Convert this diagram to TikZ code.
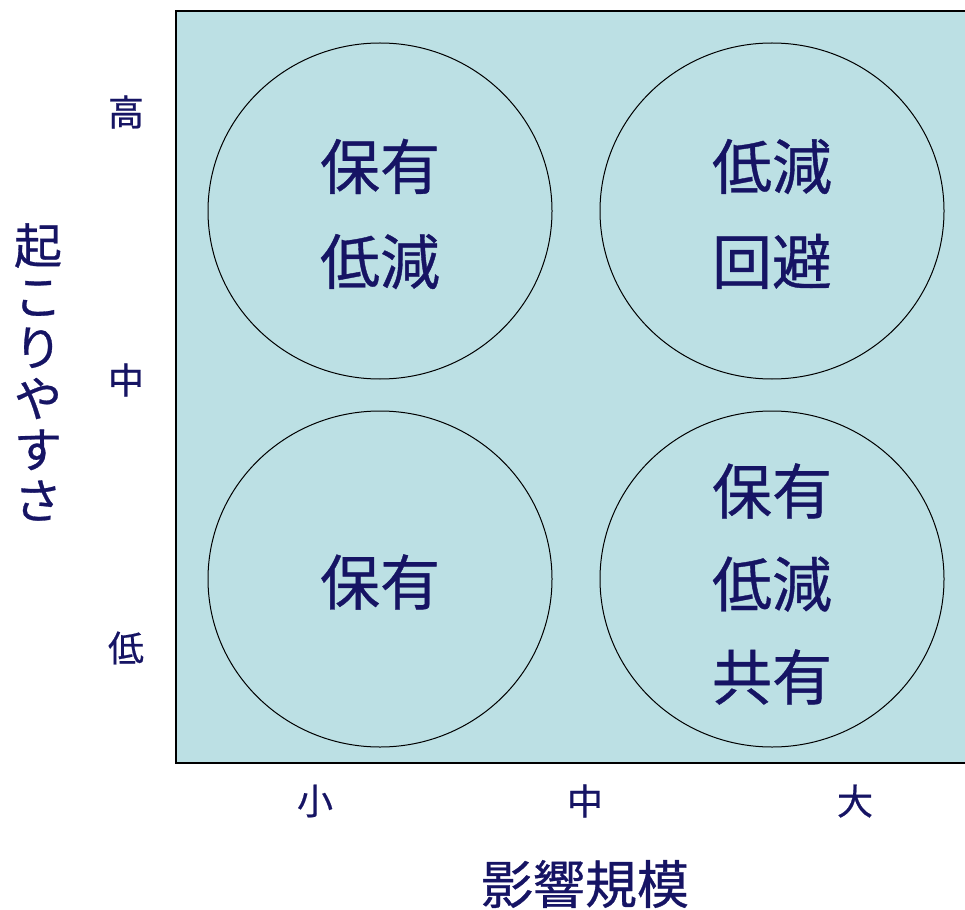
\documentclass[tikz,border=0pt]{standalone}
\usepackage{fontspec}
\setmainfont[FakeBold=0.6]{Noto Sans CJK JP}
\definecolor{quadfill}{RGB}{188,224,228}
\definecolor{navy}{RGB}{22,20,100}
\begin{document}
\begin{tikzpicture}[x=1pt,y=-1pt,
  lbl/.style={text=navy,inner sep=0pt,align=center},
  ring/.style={draw=black,line width=1pt}]
\useasboundingbox (0,0) rectangle (965,909);
\fill[quadfill] (176,11) rectangle (966,763);
\draw[line width=2pt] (966,11) -- (176,11) -- (176,763) -- (966,763);
% circles
\draw[ring] (380,211) ellipse [x radius=172, y radius=168];
\draw[ring] (772,211) ellipse [x radius=172, y radius=168];
\draw[ring] (380,579) ellipse [x radius=172, y radius=168];
\draw[ring] (772,579) ellipse [x radius=172, y radius=168];
% circle texts
\node[lbl,font=\fontsize{60}{95}\selectfont] (tl) at (380,214) {保有\\低減};
\node[lbl,font=\fontsize{60}{95}\selectfont] (tr) at (772,214) {低減\\回避};
\node[lbl,font=\fontsize{60}{95}\selectfont] (bl) at (380,582) {保有};
\node[lbl,font=\fontsize{60}{93}\selectfont] (br) at (772,584) {保有\\低減\\共有};
% y tick labels
\node[lbl,font=\fontsize{36}{40}\selectfont] (yh) at (126,112) {高};
\node[lbl,font=\fontsize{36}{40}\selectfont] (ym) at (126,380) {中};
\node[lbl,font=\fontsize{36}{40}\selectfont] (yl) at (126,648) {低};
% x tick labels
\node[lbl,font=\fontsize{36}{40}\selectfont] (xs) at (315,801) {小};
\node[lbl,font=\fontsize{36}{40}\selectfont] (xm) at (585,801) {中};
\node[lbl,font=\fontsize{36}{40}\selectfont] (xl) at (855,801) {大};
% axis titles
\node[lbl,font=\fontsize{52}{60}\selectfont] (xt) at (585,884) {影響規模};
\node[lbl,font=\fontsize{48}{51}\selectfont] (yt) at (38,372) {起\\こ\\り\\や\\す\\さ};
\end{tikzpicture}
\end{document}
